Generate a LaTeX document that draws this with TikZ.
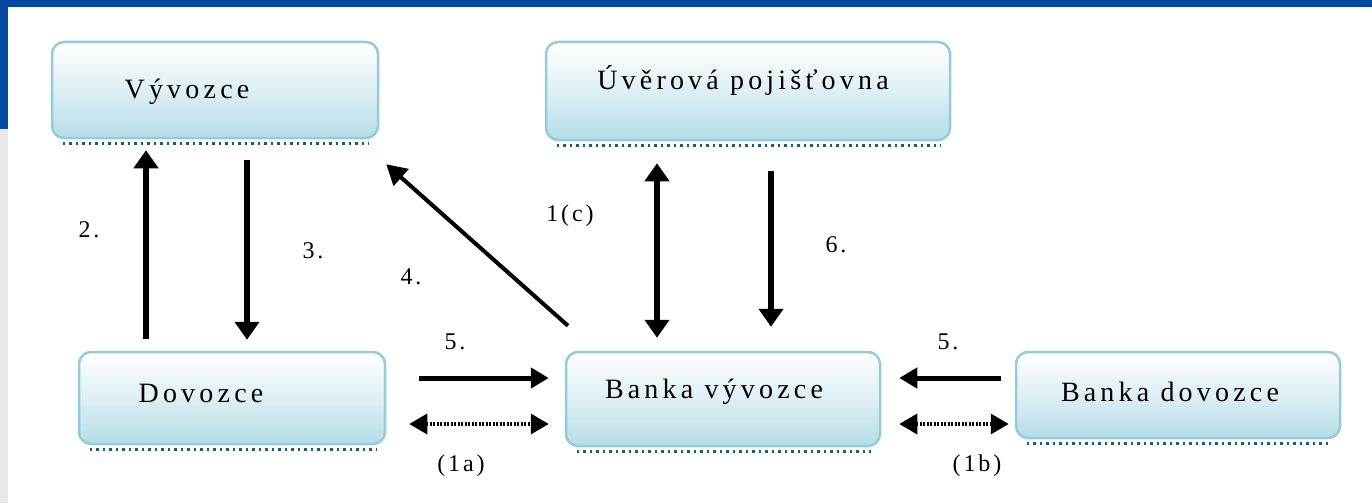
\documentclass[tikz,border=0pt]{standalone}
\usepackage{fontspec}
\setmainfont{Liberation Serif}
\usetikzlibrary{arrows.meta,calc}
\definecolor{barblue}{HTML}{0047A0}
\definecolor{sidegray}{HTML}{E8E8E8}
\definecolor{boxedge}{HTML}{92CDDA}
\definecolor{boxfill}{HTML}{B6DCE6}
\definecolor{boxshadow}{HTML}{1F5C6E}
\newfontfamily\boxfont[LetterSpace=15]{Liberation Serif}
\newfontfamily\labfont[LetterSpace=12]{Liberation Serif}
\tikzset{
  boxst/.style={draw=boxedge, line width=2.5pt, rounded corners=12pt,
    top color=white, bottom color=boxfill, middle color=boxfill!45,
    inner sep=0pt},
  boxtext/.style={font=\boxfont\fontsize{28}{32}\selectfont, inner sep=0pt},
  labst/.style={font=\labfont\fontsize{24}{26}\selectfont, inner sep=0pt},
  shadowline/.style={draw=boxshadow, line width=2.5pt, dash pattern=on 2.5pt off 4pt},
  arr/.style={line width=6.5pt, -{Triangle[width=24pt,length=18pt]}},
  darr/.style={line width=6.5pt, {Triangle[width=24pt,length=18pt]}-{Triangle[width=24pt,length=18pt]}},
  harr/.style={line width=5pt, -{Triangle[width=20pt,length=18pt]}},
  dotarr/.style={line width=3.5pt, dash pattern=on 2pt off 1.5pt,
    {Triangle[width=20pt,length=18pt,sep=0pt]}-{Triangle[width=20pt,length=18pt]}},
  diagarr/.style={line width=4pt, -{Triangle[width=22pt,length=20pt]}},
}
\begin{document}
\begin{tikzpicture}[x=1pt,y=-1pt]
% background
\fill[white] (0,0) rectangle (1372,503);
\useasboundingbox (0,0) rectangle (1372,503);
\fill[sidegray] (0,0) rectangle (8,503);
\fill[barblue] (0,0) rectangle (8,129);
\fill[barblue] (0,0) rectangle (1372,7);

% boxes
\node[boxst, minimum width=326pt, minimum height=96pt] (vyv) at (215,90) {};
\node[boxst, minimum width=404pt, minimum height=98pt] (uv) at (748,91) {};
\node[boxst, minimum width=306pt, minimum height=92pt] (dov) at (232,398) {};
\node[boxst, minimum width=314pt, minimum height=94pt] (bv) at (723,399) {};
\node[boxst, minimum width=324pt, minimum height=86pt] (bd) at (1178,395) {};

% shadows
\foreach \b in {vyv,uv,dov,bv,bd}{
  \draw[shadowline] ($(\b.south west)+(12,4)$) -- ($(\b.south east)+(-10,4)$);
}

% texts
\node[boxtext] (vyvt) at (187,92) {Vývozce};
\node[boxtext] (uvt) at (743,80) {Úvěrová pojišťovna};
\node[boxtext] (dovt) at (201,393) {Dovozce};
\node[boxtext] (bvt) at (714,392) {Banka vývozce};
\node[boxtext] (bdt) at (1170,392) {Banka dovozce};

% arrows
\draw[arr] ($(dov.north)+(-86,-12)$) -- ($(vyv.south)+(-69,11)$);
\draw[arr] ($(vyv.south)+(32,21)$) -- ($(dov.north)+(15,-11)$);
\draw[diagarr] ($(bv.north)+(-155,-25)$) -- ($(vyv.south east)+(7,25)$);
\draw[darr] ($(uv.south)+(-91,22)$) -- ($(bv.north)+(-66,-13)$);
\draw[arr] ($(uv.south)+(23,30)$) -- ($(bv.north)+(48,-24)$);
\draw[harr] ($(dov.east)+(33,-20)$) -- ($(bv.west)+(-16,-21)$);
\draw[dotarr] ($(dov.east)+(23,26)$) -- ($(bv.west)+(-16,25)$);
\draw[harr] ($(bd.west)+(-14,-17)$) -- ($(bv.east)+(18,-21)$);
\draw[dotarr] ($(bv.east)+(18,25)$) -- ($(bd.west)+(-6,29)$);

% labels
\node[labst] (l2) at (89,230) {2.};
\node[labst] (l3) at (313,251) {3.};
\node[labst] (l4) at (411,277) {4.};
\node[labst] (l1c) at (570,216) {1(c)};
\node[labst] (l6) at (836,245) {6.};
\node[labst] (l5a) at (455,342) {5.};
\node[labst] (l5b) at (948,342) {5.};
\node[labst] (l1a) at (461,466) {(1a)};
\node[labst] (l1b) at (977,466) {(1b)};
\end{tikzpicture}
\end{document}
